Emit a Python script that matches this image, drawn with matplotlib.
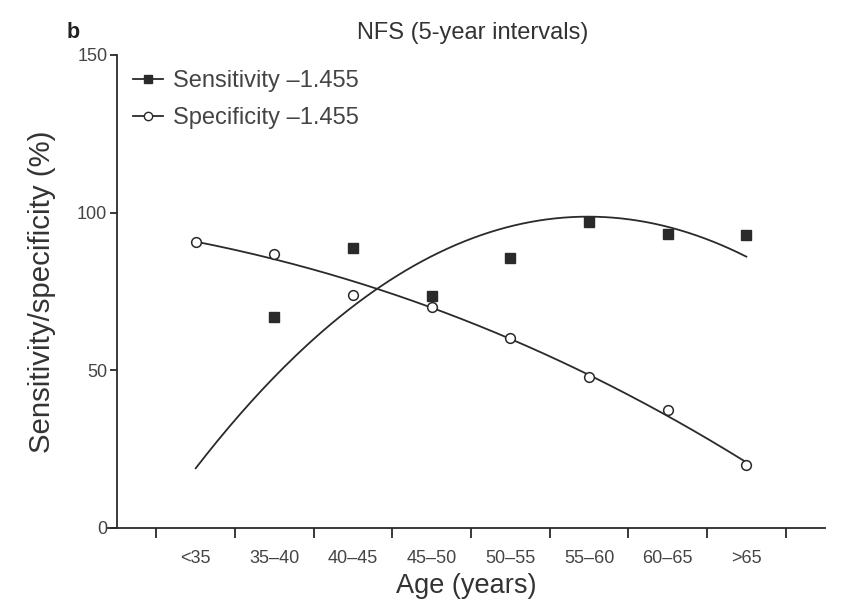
import numpy as np
import matplotlib
matplotlib.use("Agg")
import matplotlib.pyplot as plt
from matplotlib.lines import Line2D

plt.rcParams['font.family'] = ['Liberation Sans', 'DejaVu Sans']

categories = ["<35", "35\u201340", "40\u201345", "45\u201350", "50\u201355", "55\u201360", "60\u201365", ">65"]
sens_x = [1, 2, 3, 4, 5, 6, 7]
sensitivity = [66.9, 88.8, 73.7, 85.7, 96.9, 93.1, 93.0]
specificity = [90.8, 87.0, 74.0, 70.2, 60.1, 47.9, 37.5, 20.0]
# trend-line values at each category
sens_trend = [18.6, 48.6, 70.5, 85.3, 95.6, 99.2, 95.6, 85.9]
spec_trend = [90.6, 85.6, 78.5, 69.2, 60.4, 47.8, 36.4, 20.5]
yticks = [0, 50, 100, 150]

W, H = 841, 616
fig = plt.figure(figsize=(W / 100, H / 100), dpi=100)
ax = fig.add_axes([108 / W, (H - 528) / H, 717 / W, 473 / H])

ink = "#2a2a2a"
txt = "#444444"

xs = np.arange(len(categories))
xd = np.linspace(0, len(categories) - 1, 200)
ps = np.polyfit(xs, sens_trend, 3)
pp = np.polyfit(xs, spec_trend, 3)
ax.plot(xd, np.polyval(ps, xd), color=ink, lw=1.3, zorder=2)
ax.plot(xd, np.polyval(pp, xd), color=ink, lw=1.3, zorder=2)

ax.plot(sens_x, sensitivity, ls="none", marker="s", ms=7, mfc=ink, mec=ink, zorder=3)
ax.plot(xs, specificity, ls="none", marker="o", ms=7, mfc="white", mec=ink, mew=1.1, zorder=3)

ax.set_xlim(-1.115, 8.0)
ax.set_ylim(0, 150)
ax.spines['top'].set_visible(False)
ax.spines['right'].set_visible(False)
ax.spines['left'].set_position(('data', -1.0))
for s in ('left', 'bottom'):
    ax.spines[s].set_color(ink)
    ax.spines[s].set_linewidth(1.3)

ax.set_xticks(np.arange(-0.5, len(categories), 1.0))
ax.set_xticklabels([])
ax.set_xticks(xs, minor=True)
ax.set_xticklabels(categories, minor=True, fontsize=13, color=txt)
ax.tick_params(axis='x', which='major', length=7, width=1.3, color=ink, direction='out')
ax.tick_params(axis='x', which='minor', length=0, pad=16)
ax.set_yticks(yticks)
ax.set_yticklabels([str(v) for v in yticks], fontsize=13, color=txt)
ax.tick_params(axis='y', length=5, width=1.3, color=ink, direction='out', pad=2)

ax.set_xlabel("Age (years)", fontsize=19.5, color="#333333", labelpad=4.5)
ax.set_ylabel("Sensitivity/specificity (%)", fontsize=21.2, color="#333333", labelpad=15)

handles = [
    Line2D([0], [0], color=ink, lw=1.3, marker="s", ms=6, mfc=ink, mec=ink),
    Line2D([0], [0], color=ink, lw=1.3, marker="o", ms=6, mfc="white", mec=ink),
]
leg = fig.legend(handles, ["Sensitivity \u20131.455", "Specificity \u20131.455"],
                 loc="upper left", bbox_to_anchor=(124 / W, 1 - 61 / H), frameon=False,
                 fontsize=17, handlelength=1.27, handletextpad=0.42, labelspacing=0.62,
                 borderaxespad=0.0, borderpad=0.4)
for t in leg.get_texts():
    t.set_color(txt)

fig.text(67 / W, 1 - 33 / H, "b", fontsize=15.5, fontweight="bold", color="#222222",
         ha="left", va="center")
fig.text(473 / W, 1 - 33 / H, "NFS (5-year intervals)", fontsize=17, color="#333333",
         ha="center", va="center")

fig.savefig("out.png", dpi=100)
